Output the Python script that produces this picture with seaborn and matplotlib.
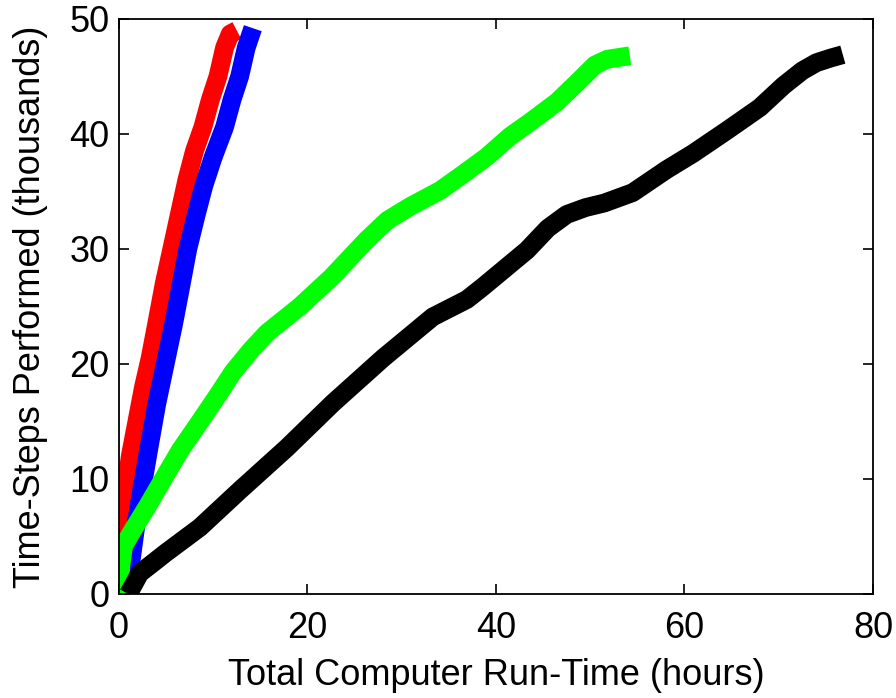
import matplotlib
matplotlib.use("Agg")
import matplotlib.pyplot as plt
import seaborn as sns
import pandas as pd

# Run-time (hours) vs. time-steps performed (thousands) for four configurations
red_hours = [0, 0.1, 0.3, 0.7, 1.2, 1.9, 2.6, 3.3, 4.0, 4.8, 5.6, 6.4, 7.2, 8.0, 8.9, 9.7, 10.5, 11.2, 11.8, 12.5]
red_steps = [0, 3, 6, 9, 12, 15, 18, 20.5, 23.5, 27, 30, 33, 36, 38.5, 40.6, 43, 45, 47.5, 48.7, 49]

blue_hours = [1.0, 1.3, 1.8, 2.4, 3.2, 4.0, 4.9, 5.8, 6.5, 7.3, 8.2, 9.0, 10.0, 11.2, 12.0, 12.8, 13.5, 14.2]
blue_steps = [0, 3, 6, 9, 12.8, 16.5, 20, 23.5, 26.5, 30, 33, 35.5, 38, 40.6, 43, 45, 47.5, 49.2]

green_hours = [0, 0.2, 0.5, 1.5, 3.0, 4.7, 6.5, 8.6, 10.5, 12.1, 14.0, 15.7, 19.2, 22.5, 26.3, 28.5, 30.9,
               34.1, 36.5, 39.0, 41.5, 43.9, 46.5, 48.9, 50.5, 51.8, 54.2]
green_steps = [0, 2.5, 4.2, 5.6, 7.6, 10.0, 12.5, 15.0, 17.3, 19.3, 21.2, 22.7, 25, 27.5, 30.8, 32.5, 33.7,
               35.1, 36.5, 38, 39.8, 41.2, 42.8, 44.7, 46, 46.5, 46.8]

black_hours = [1.0, 1.2, 2.2, 5.0, 8.6, 12.8, 17.8, 22.7, 28.0, 33.3, 36.9, 38.6, 43.3, 45.5, 47.5,
               49.5, 51.5, 54.5, 58.1, 60.9, 64.5, 68.0, 70.5, 72.5, 74.0, 75.5, 76.8]
black_steps = [0, 0.3, 1.8, 3.6, 5.8, 9.0, 12.7, 16.6, 20.5, 24.1, 25.6, 26.7, 29.9, 31.8, 33.0,
               33.6, 34.0, 34.9, 36.9, 38.3, 40.3, 42.3, 44.2, 45.5, 46.2, 46.6, 46.9]

series = {
    "red": (red_hours, red_steps, "#ff0000"),
    "blue": (blue_hours, blue_steps, "#0000ff"),
    "green": (green_hours, green_steps, "#00ff00"),
    "black": (black_hours, black_steps, "#000000"),
}

sns.set_theme(style="white")
plt.rcParams["font.family"] = ["Liberation Sans", "DejaVu Sans"]
for key in ("text.color", "axes.labelcolor", "xtick.color", "ytick.color"):
    plt.rcParams[key] = "black"

fig, ax = plt.subplots(figsize=(8.96, 6.98), dpi=100)
fig.subplots_adjust(left=0.1328, right=0.9743, top=0.9728, bottom=0.149)

for name, (hx, sy, col) in series.items():
    df = pd.DataFrame({"hours": hx, "steps": sy})
    sns.lineplot(data=df, x="hours", y="steps", sort=False, estimator=None,
                 color=col, linewidth=13.5, solid_capstyle="butt",
                 solid_joinstyle="round", ax=ax)

ax.set_xlim(0, 80)
ax.set_ylim(0, 50)
ax.set_xticks([0, 20, 40, 60, 80])
ax.set_yticks([0, 10, 20, 30, 40, 50])
ax.set_xlabel("Total Computer Run-Time (hours)", fontsize=26, labelpad=9)
ax.set_ylabel("Time-Steps Performed (thousands)", fontsize=26, labelpad=15)
ax.tick_params(direction="in", length=7, width=1.2, labelsize=26, top=True, right=True,
               bottom=True, left=True, colors="black")
ax.tick_params(axis="x", pad=12)
ax.tick_params(axis="y", pad=7)
for sp in ax.spines.values():
    sp.set_visible(True)
    sp.set_color("black")
    sp.set_linewidth(1.3)

fig.savefig("out.png", dpi=100, facecolor="white")
